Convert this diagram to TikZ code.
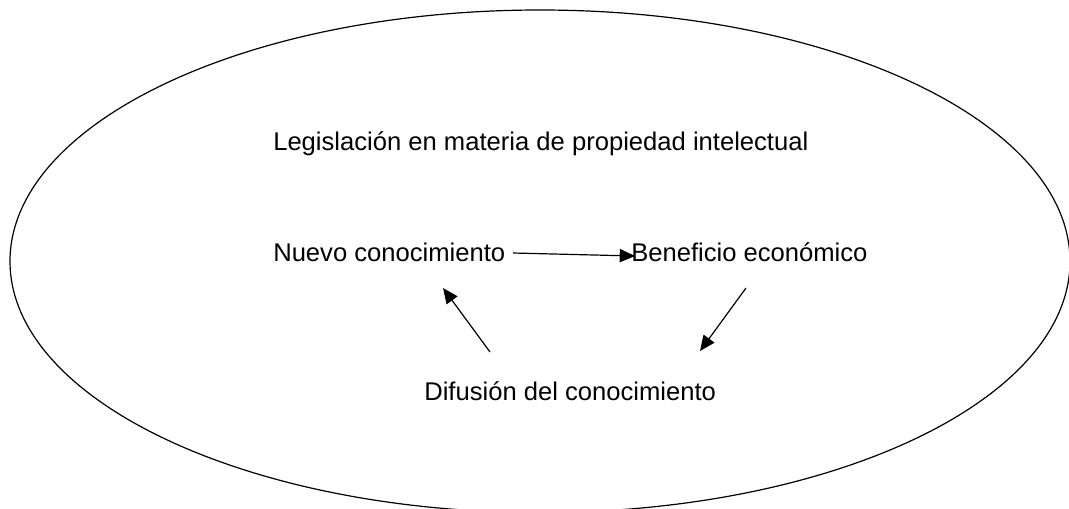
\documentclass[tikz,border=0pt]{standalone}
\usepackage{fontspec}
\setmainfont{Liberation Sans}
\usetikzlibrary{arrows.meta}
\tikzset{
	texto/.style={anchor=base west, inner sep=0pt, font=\fontsize{19.2}{23}\selectfont},
	flecha/.style={-{Triangle[length=11.5pt, width=10pt]}, line width=.9pt}
}
\begin{document}
\begin{tikzpicture}[x=.75pt, y=-.75pt]
	\useasboundingbox (0,0) rectangle (1069,508);
	\clip (0,0) rectangle (1069,508);
	\draw[line width=.9pt] (540,261.3) ellipse [x radius=530, y radius=251.3];
	\node[texto] (legis)     at (273,150) {Legislación en materia de propiedad intelectual};
	\node[texto] (nuevo)     at (273,261) {Nuevo conocimiento};
	\node[texto] (beneficio) at (631,261) {Beneficio económico};
	\node[texto] (difusion)  at (424,400) {Difusión del conocimiento};
	%extremos de las flechas
	\coordinate (n1) at (513,253);
	\coordinate (b1) at (635,256);
	\coordinate (b2) at (746,288);
	\coordinate (d1) at (700,351);
	\coordinate (d2) at (490,352);
	\coordinate (n2) at (443,288);
	\draw[flecha] (n1) -- (b1);
	\draw[flecha] (b2) -- (d1);
	\draw[flecha] (d2) -- (n2);
\end{tikzpicture}
\end{document}
